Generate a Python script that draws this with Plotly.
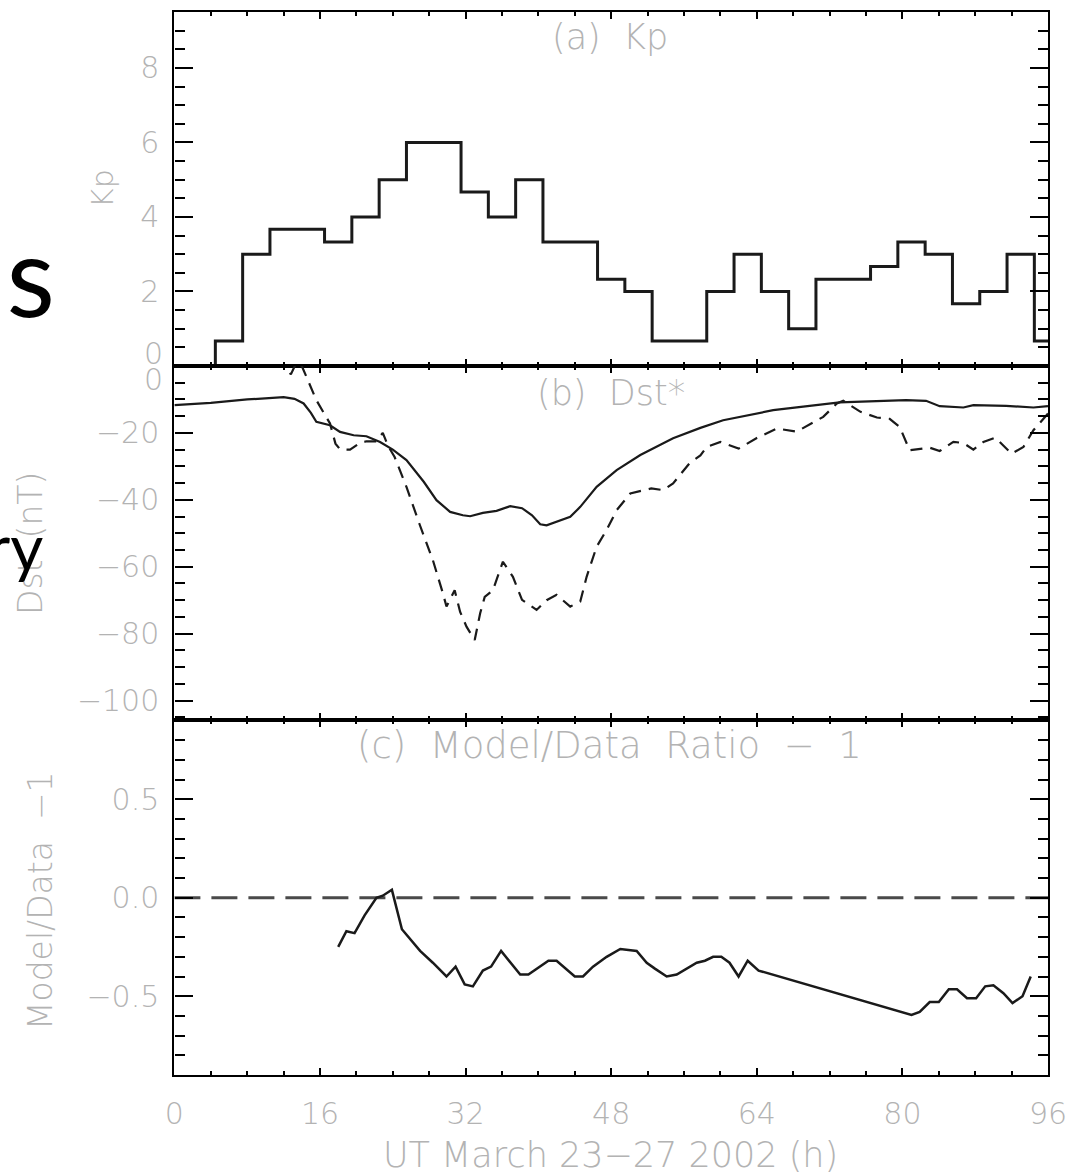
import plotly.graph_objects as go

W, H = 1072, 1175

# ---- data -------------------------------------------------------------
kp_hours = list(range(0, 97, 3))
kp_values = [0, 0, 0.67, 3.0, 3.67, 3.67, 3.33, 4.0, 5.0, 6.0, 6.0, 4.67, 4.0,
             5.0, 3.33, 3.33, 2.33, 2.0, 0.67, 0.67, 2.0, 3.0, 2.0, 1.0, 2.33,
             2.33, 2.67, 3.33, 3.0, 1.67, 2.0, 3.0, 0.67]

dst_model_hours = [0, 4, 8, 12, 13.2, 14.2, 15.0, 15.6, 17.1, 18.2, 19.7, 21.1,
                   22.6, 24.0, 25.5, 27.4, 28.8, 30.3, 31.7, 32.5, 33.9, 35.4,
                   36.9, 38.2, 39.3, 40.2, 40.9, 42.0, 43.5, 44.6, 46.4, 48.6,
                   51.2, 54.8, 57.8, 60.3, 65.8, 73.1, 80.4, 82.6, 84.1, 86.7,
                   87.8, 91.4, 94.4, 96.0]
dst_model = [-11.7, -11.0, -10.0, -9.3, -9.8, -11.2, -14.0, -16.7, -17.7, -19.7,
             -20.7, -21.0, -22.7, -25.0, -28.1, -34.6, -40.1, -43.6, -44.6,
             -44.9, -43.9, -43.3, -41.9, -42.5, -44.6, -47.3, -47.6, -46.6,
             -45.1, -42.1, -36.1, -31.1, -26.6, -21.6, -18.5, -16.2, -13.2,
             -10.9, -10.2, -10.4, -12.0, -12.4, -11.7, -11.9, -12.4, -12.0]

dst_obs_hours = [11.5, 12.8, 13.4, 14.0, 15.6, 17.1, 17.7, 18.2, 19.3, 20.4,
                 21.1, 22.2, 22.9, 23.5, 24.2, 25.5, 26.9, 28.4, 29.5, 29.9,
                 30.8, 31.4, 32.1, 33.0, 33.6, 34.1, 35.0, 36.1, 37.2, 38.2,
                 39.8, 40.9, 42.0, 43.5, 44.6, 45.3, 46.4, 47.5, 48.6, 50.1,
                 52.4, 53.7, 54.8, 56.6, 57.8, 58.5, 60.0, 62.0, 64.0, 66.2,
                 68.4, 71.3, 72.8, 73.5, 75.4, 77.2, 78.6, 79.7, 80.8, 83.0,
                 84.1, 85.6, 86.7, 87.8, 88.9, 90.2, 92.0, 93.3, 94.4, 96.0]
dst_obs = [3.0, -2.5, 1.0, 0.0, -10.2, -17.2, -23.2, -24.9, -25.0, -23.0,
           -22.5, -22.5, -20.0, -24.0, -27.2, -36.1, -47.0, -58.0, -67.9, -71.9,
           -67.0, -73.5, -77.9, -81.9, -73.9, -69.0, -67.0, -58.5, -63.0, -69.9,
           -72.9, -70.0, -68.4, -71.9, -70.4, -63.0, -54.0, -49.0, -43.1, -38.1,
           -36.6, -37.1, -35.1, -29.1, -26.7, -24.2, -22.7, -24.7, -21.5, -18.7,
           -19.6, -15.2, -11.2, -10.4, -13.7, -15.4, -15.8, -18.2, -25.2, -24.4,
           -25.4, -22.7, -23.0, -25.0, -22.7, -21.4, -26.2, -24.2, -19.2, -14.2]

ratio_hours = [18.0, 18.9, 19.8, 20.9, 22.2, 22.9, 23.9, 25.0, 27.0, 28.4, 29.9,
               30.9, 31.9, 32.8, 33.9, 34.8, 35.9, 38.0, 38.9, 41.1, 42.0, 44.0,
               44.9, 46.0, 47.5, 49.0, 50.8, 51.9, 52.8, 54.1, 55.2, 56.3, 57.4,
               58.3, 59.2, 60.1, 61.0, 62.0, 63.0, 64.2, 81.0, 81.9, 83.0, 84.0,
               85.1, 86.0, 87.1, 88.1, 89.1, 90.0, 91.1, 92.1, 93.2, 94.1]
ratio = [-0.25, -0.17, -0.18, -0.09, 0.0, 0.01, 0.04, -0.16, -0.27, -0.33, -0.40,
         -0.35, -0.44, -0.45, -0.37, -0.35, -0.27, -0.39, -0.39, -0.32, -0.32,
         -0.40, -0.40, -0.35, -0.30, -0.26, -0.27, -0.33, -0.36, -0.40, -0.39,
         -0.36, -0.33, -0.32, -0.30, -0.30, -0.33, -0.40, -0.32, -0.37, -0.595,
         -0.58, -0.53, -0.53, -0.465, -0.465, -0.51, -0.51, -0.45, -0.445,
         -0.485, -0.535, -0.50, -0.40]

x_ticks = [0, 16, 32, 48, 64, 80, 96]
kp_ticks = [2, 4, 6, 8]
dst_ticks = [-20, -40, -60, -80, -100]
ratio_ticks = [-0.5, 0.0, 0.5]

# ---- styling ----------------------------------------------------------
GRAY = "#b3b3b3"
FONT = "DejaVu Sans"
INK = "#1a1a1a"
SLIDE_FONT = "Liberation Sans Narrow, Lato, sans-serif"


def px(x):
    return x / W


def py(y):
    return 1 - y / H


X0, X1 = px(174.4), px(1048)
dom_a = [py(366), py(12)]
dom_b = [py(720), py(366)]
dom_c = [py(1075), py(720)]

fig = go.Figure()

fig.add_trace(go.Scatter(x=kp_hours, y=kp_values, mode="lines",
                         line=dict(shape="hvh", color=INK, width=3),
                         xaxis="x", yaxis="y"))
fig.add_trace(go.Scatter(x=dst_model_hours, y=dst_model, mode="lines",
                         line=dict(color=INK, width=2.2),
                         xaxis="x2", yaxis="y2"))
fig.add_trace(go.Scatter(x=dst_obs_hours, y=dst_obs, mode="lines",
                         line=dict(color=INK, width=2.2, dash="12px,8px"),
                         xaxis="x2", yaxis="y2"))
fig.add_trace(go.Scatter(x=[0, 96], y=[0, 0], mode="lines",
                         line=dict(color="#4a4a4a", width=3, dash="26px,11px"),
                         xaxis="x3", yaxis="y3"))
fig.add_trace(go.Scatter(x=ratio_hours, y=ratio, mode="lines",
                         line=dict(color=INK, width=2.5),
                         xaxis="x3", yaxis="y3"))

tickfont = dict(family=FONT, size=30, color=GRAY, weight=200)
frame = dict(showline=True, linecolor="black", linewidth=2.2, mirror="ticks",
             ticks="inside", tickcolor="black", tickwidth=2, showgrid=False,
             zeroline=False, tickfont=tickfont, automargin=False)


def xaxis(anchor, labels):
    return dict(frame, domain=[X0, X1], anchor=anchor, range=[0, 96],
                tickvals=x_ticks, ticklen=7, showticklabels=labels,
                ticklabelstandoff=11,
                minor=dict(tick0=0, dtick=4, ticklen=3.5, tickwidth=2,
                           tickcolor="black", ticks="inside"))


def yaxis(anchor, dom, rng, vals, minor_step, fmt=None):
    d = dict(frame, domain=dom, anchor=anchor, range=rng, tickvals=vals,
             ticklen=18, ticklabelstandoff=7,
             minor=dict(tick0=0, dtick=minor_step, ticklen=10, tickwidth=2,
                        tickcolor="black", ticks="inside"))
    if fmt:
        d["tickformat"] = fmt
    return d


annotations = []


def label(text, x, y, size=30, angle=0, color=GRAY, family=FONT, weight=200,
          xanchor="center", yanchor="middle"):
    annotations.append(dict(text=text, x=px(x), y=py(y), xref="paper",
                            yref="paper", showarrow=False, textangle=angle,
                            xanchor=xanchor, yanchor=yanchor,
                            font=dict(family=family, size=size, color=color,
                                      weight=weight)))


# panel titles
label("(a)  Kp", 610, 37, size=35)
label("(b)  Dst*", 611, 393, size=35)
label("(c)  Model/Data  Ratio  \u2212  1", 609, 745, size=37)
# axis titles
label("Kp", 103, 189, size=30, angle=-90)
label("Dst  (nT)", 30, 544, size=33, angle=-90)
label("Model/Data  \u22121", 40, 901, size=33, angle=-90)
label("UT March 23\u221227 2002 (h)", 610, 1155, size=35)
# zero labels at the shared panel edge
label("0", 153, 353)
label("0", 153, 379)
# slide text at the left edge
label("ns", 57, 343, size=112, color="black", family=SLIDE_FONT, weight=400,
      xanchor="right", yanchor="bottom")
label("ry", 45, 587, size=64, color="black", family=SLIDE_FONT, weight=400,
      xanchor="right", yanchor="bottom")

fig.update_layout(
    width=W, height=H, autosize=False, margin=dict(l=0, r=0, t=0, b=0),
    paper_bgcolor="white", plot_bgcolor="white", showlegend=False,
    xaxis=xaxis("y", False),
    xaxis2=xaxis("y2", False),
    xaxis3=xaxis("y3", True),
    yaxis=yaxis("x", dom_a, [0, 9.5], kp_ticks, 0.5),
    yaxis2=yaxis("x2", dom_b, [-105.8, 0], dst_ticks, 5),
    yaxis3=yaxis("x3", dom_c, [-0.9, 0.902], ratio_ticks, 0.1, fmt=".1f"),
    annotations=annotations,
)

fig.write_html("out.html")
